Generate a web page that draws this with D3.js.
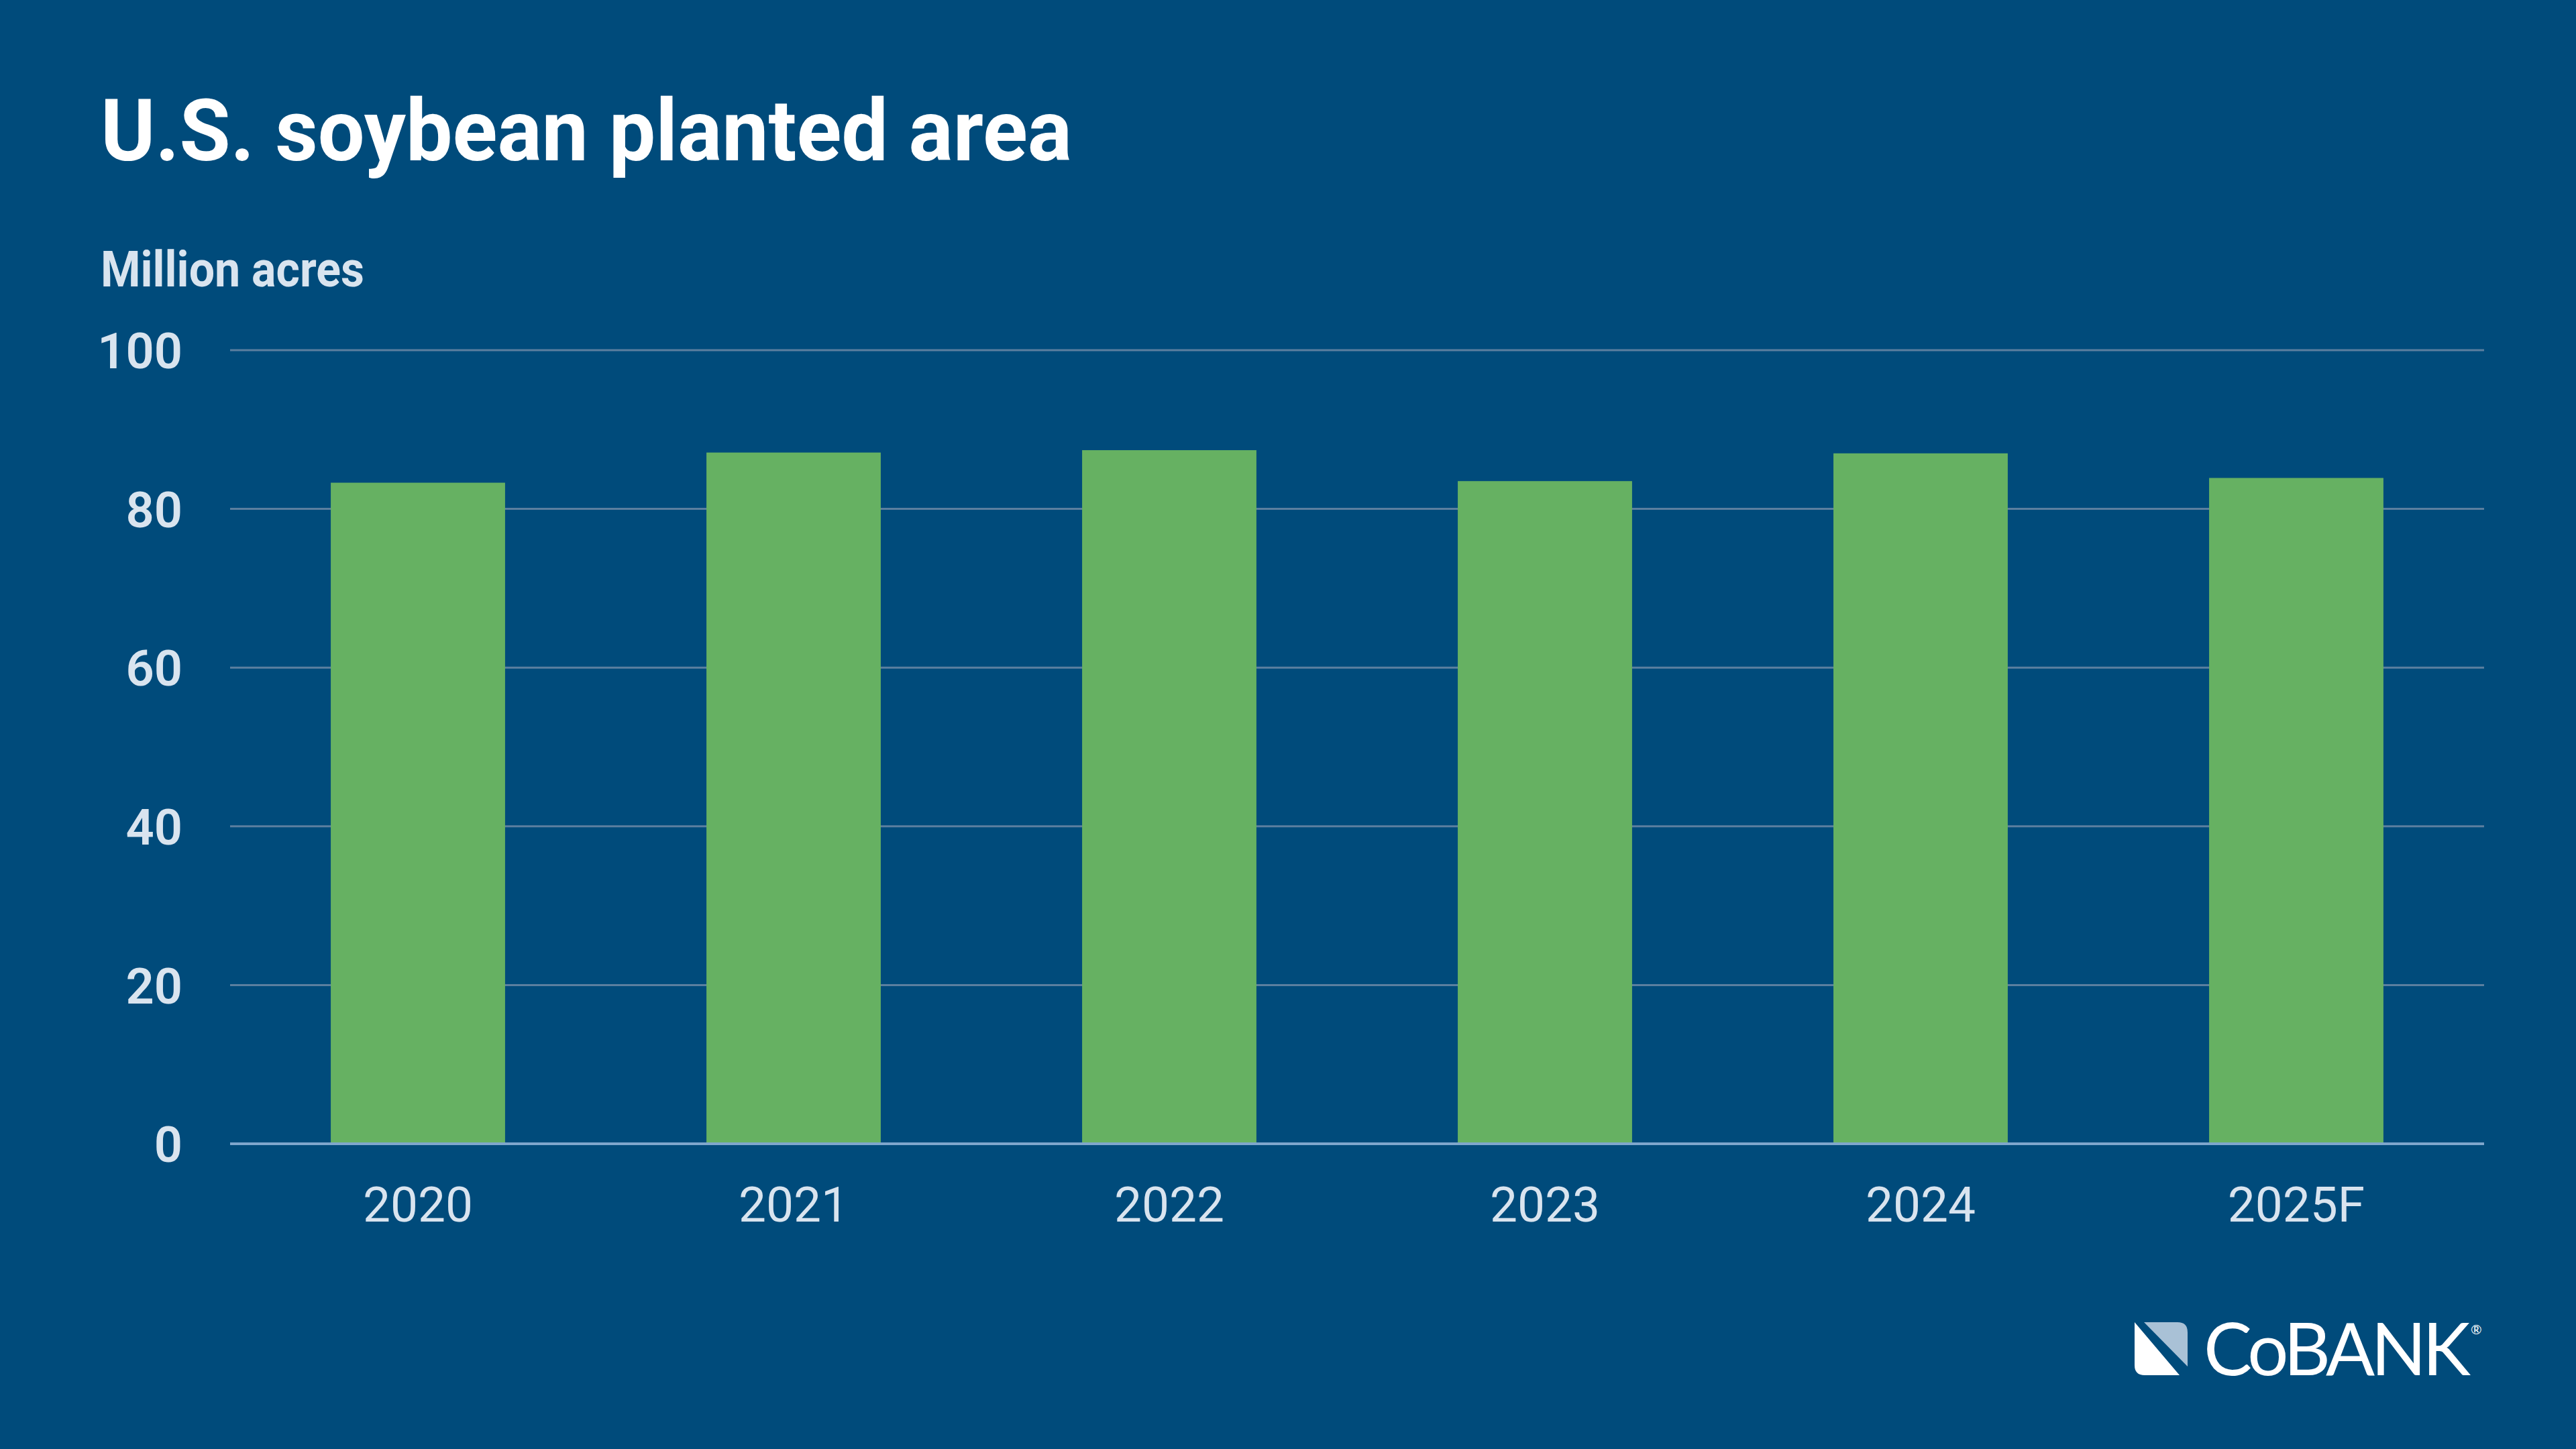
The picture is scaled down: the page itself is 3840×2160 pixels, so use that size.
<!DOCTYPE html>
<html>
<head>
<meta charset="utf-8">
<script src="https://cdn.jsdelivr.net/npm/d3@7"></script>
<style>
  html, body { margin: 0; padding: 0; background: #004b7b; }
  svg { display: block; }
</style>
</head>
<body>
<div id="chart"></div>
<script>
// soybean planted area, million acres
const years = ["2020", "2021", "2022", "2023", "2024", "2025F"];
const acres = [83.3, 87.1, 87.4, 83.5, 87.0, 83.9];
const yTicks = [0, 20, 40, 60, 80, 100];

const width = 3840;
const height = 2160;
const margin = { top: 522, right: 137, bottom: 455, left: 343 };

const svg = d3.select("#chart").append("svg")
    .attr("width", width)
    .attr("height", height)
    .attr("viewBox", `0 0 ${width} ${height}`);

svg.append("rect")
    .attr("width", width)
    .attr("height", height)
    .attr("fill", "#004b7b");

const x = d3.scaleBand()
    .domain(years)
    .range([margin.left, width - margin.right])
    .paddingInner(0.536)
    .paddingOuter(0.268);

const y = d3.scaleLinear()
    .domain([0, 100])
    .range([height - margin.bottom, margin.top]);

// title
svg.append("text")
    .attr("x", 150)
    .attr("y", 239)
    .attr("textLength", 1448)
    .attr("lengthAdjust", "spacingAndGlyphs")
    .style("font-family", "'Liberation Sans Narrow', 'Roboto', sans-serif")
    .style("font-weight", "bold")
    .style("font-size", "128px")
    .style("fill", "#ffffff")
    .text("U.S. soybean planted area");

svg.append("text")
    .attr("x", 150)
    .attr("y", 427)
    .attr("textLength", 393)
    .attr("lengthAdjust", "spacingAndGlyphs")
    .style("font-family", "'Liberation Sans Narrow', 'Roboto', sans-serif")
    .style("font-weight", "bold")
    .style("font-size", "75px")
    .style("fill", "#d9e4ef")
    .text("Million acres");

// gridlines
svg.append("g")
    .selectAll("line")
    .data(yTicks.filter(d => d > 0))
    .join("line")
    .attr("x1", margin.left)
    .attr("x2", width - margin.right)
    .attr("y1", d => y(d))
    .attr("y2", d => y(d))
    .attr("stroke", "#5b7f9f")
    .attr("stroke-width", 3);

// y axis labels
const yAxis = svg.append("g")
    .attr("transform", `translate(272,0)`)
    .call(d3.axisLeft(y).tickValues(yTicks).tickSize(0).tickPadding(0));
yAxis.select(".domain").remove();
yAxis.selectAll("text")
    .attr("dy", "0.36em")
    .style("font-family", "'Liberation Sans Narrow', 'Roboto', sans-serif")
    .style("font-weight", "600")
    .style("font-size", "74px")
    .style("fill", "#d9e4ef");

// bars
svg.append("g")
    .selectAll("rect")
    .data(years)
    .join("rect")
    .attr("x", d => x(d))
    .attr("width", x.bandwidth())
    .attr("y", (d, i) => y(acres[i]))
    .attr("height", (d, i) => y(0) - y(acres[i]))
    .attr("fill", "#66b162");

// baseline
svg.append("line")
    .attr("x1", margin.left)
    .attr("x2", width - margin.right)
    .attr("y1", y(0))
    .attr("y2", y(0))
    .attr("stroke", "#7fa6cc")
    .attr("stroke-width", 4);

// x axis labels
const xAxis = svg.append("g")
    .attr("transform", `translate(0,${y(0)})`)
    .call(d3.axisBottom(x).tickSize(0).tickPadding(0));
xAxis.select(".domain").remove();
xAxis.selectAll("text")
    .attr("y", 116)
    .attr("dy", 0)
    .style("font-family", "Roboto, sans-serif")
    .style("font-weight", "400")
    .style("font-size", "73px")
    .style("fill", "#d9e4ef");

// CoBank logo
const logo = svg.append("g").attr("transform", "translate(3182,1971)");
logo.append("path")
    .attr("d", "M0,0 L67,79 L15,79 Q0,79 0,64 Z")
    .attr("fill", "#ffffff");
logo.append("path")
    .attr("d", "M14,0 L64,0 Q79,0 79,15 L79,66 Z")
    .attr("fill", "#a9c1d6");
const logoText = logo.append("text")
    .attr("x", 103)
    .attr("y", 79)
    .style("font-family", "Lato, 'Open Sans', sans-serif")
    .style("font-weight", "400")
    .style("font-size", "108px")
    .style("fill", "#ffffff")
    .text("CoBANK");
// squeeze letters so the word spans ~392px without stretching glyph boxes
const natural = logoText.node().getComputedTextLength();
logoText.style("letter-spacing", `${(392 - natural) / 6}px`);
const wordEnd = 103 + logoText.node().getComputedTextLength();
logo.append("text")
    .attr("x", Math.max(wordEnd, 395) + 6)
    .attr("y", 18)
    .style("font-family", "Lato, sans-serif")
    .style("font-size", "20px")
    .style("fill", "#ffffff")
    .text("®");
</script>
</body>
</html>
